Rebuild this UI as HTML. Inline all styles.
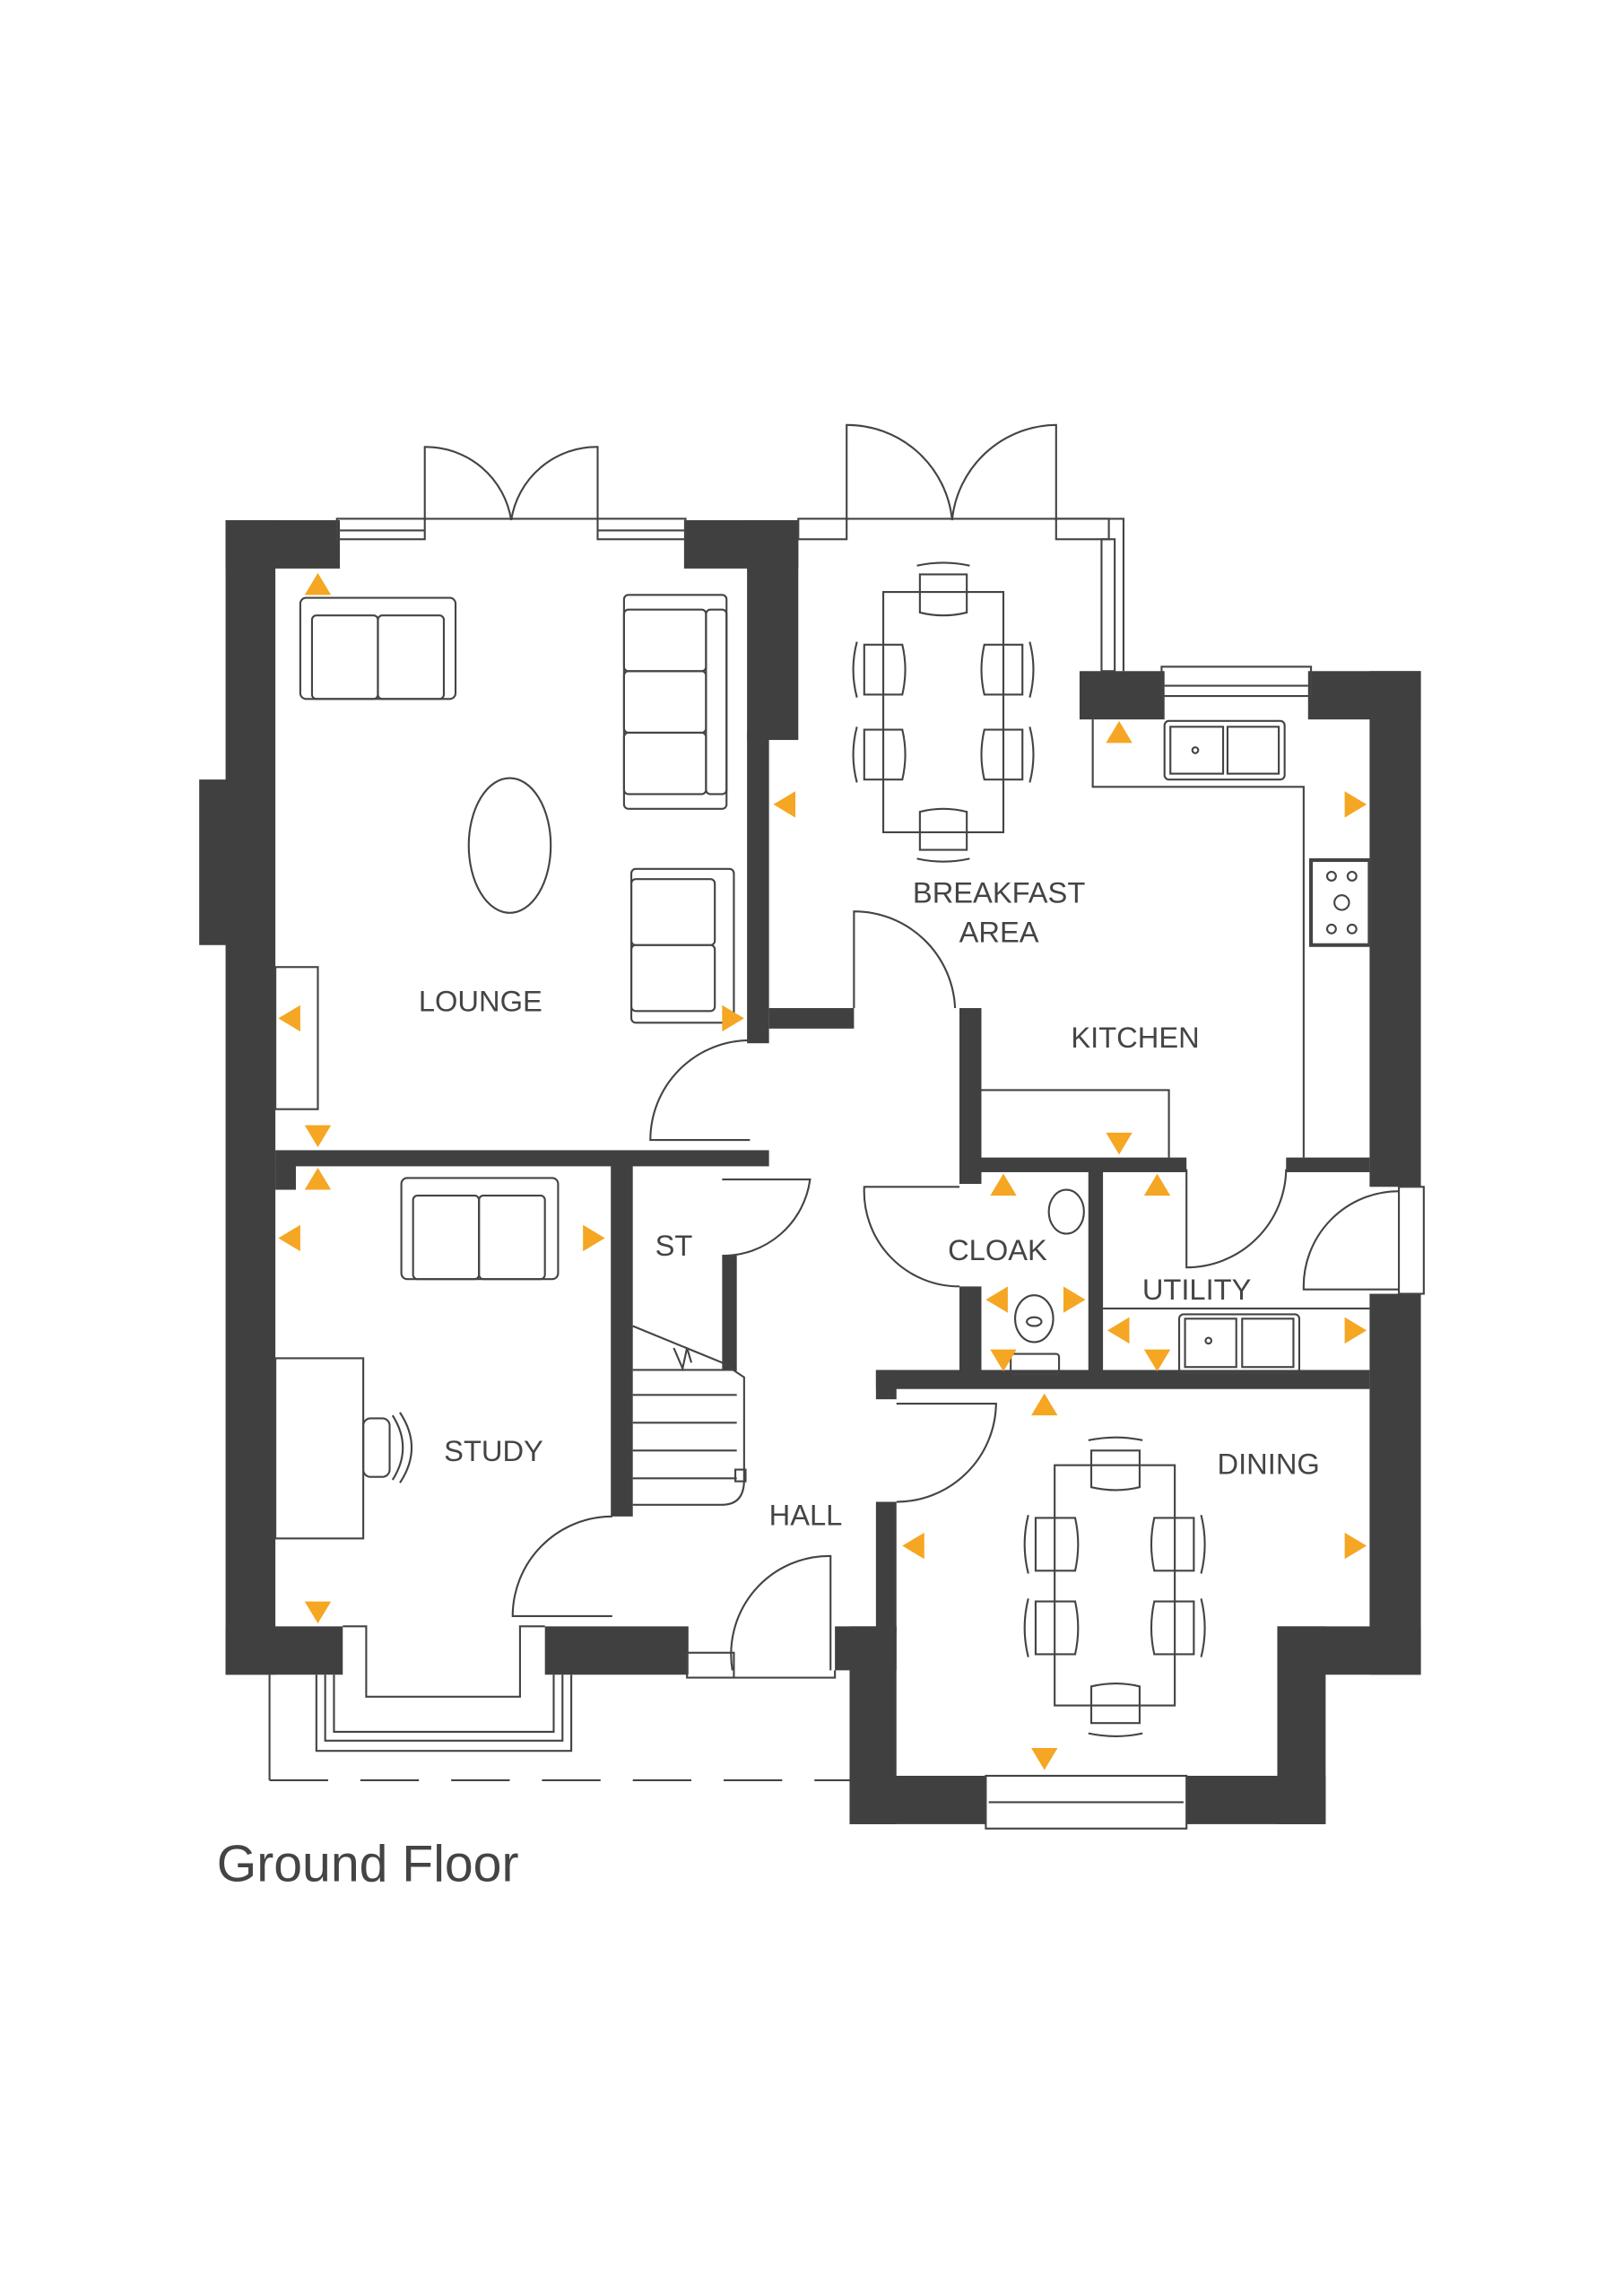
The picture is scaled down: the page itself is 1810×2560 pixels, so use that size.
<!DOCTYPE html>
<html><head><meta charset="utf-8"><style>
html,body{margin:0;padding:0;background:#fff;}
svg{display:block;}
text{font-family:"Liberation Sans",sans-serif;fill:#444;}
</style></head><body>
<svg width="1810" height="2560" viewBox="0 0 1108 1567" xmlns="http://www.w3.org/2000/svg">
<g fill="#404040">
<rect x="154" y="355" width="34" height="788"/>
<rect x="136" y="532" width="20" height="113"/>
<rect x="154" y="355" width="78" height="33"/>
<rect x="467" y="355" width="78" height="33"/>
<rect x="510" y="355" width="35" height="150"/>
<rect x="510" y="500" width="15" height="212"/>
<rect x="154" y="1110" width="80" height="33"/>
<rect x="372" y="1110" width="98" height="33"/>
<rect x="188" y="785" width="337" height="11"/>
<rect x="188" y="795" width="14" height="17"/>
<rect x="417" y="795" width="15" height="240"/>
<rect x="525" y="688" width="58" height="14"/>
<rect x="493" y="857" width="10" height="78"/>
<rect x="737" y="458" width="58" height="33"/>
<rect x="893" y="458" width="77" height="33"/>
<rect x="935" y="458" width="35" height="352"/>
<rect x="935" y="883" width="35" height="260"/>
<rect x="872" y="1110" width="98" height="33"/>
<rect x="872" y="1110" width="33" height="135"/>
<rect x="580" y="1212" width="93" height="33"/>
<rect x="810" y="1212" width="95" height="33"/>
<rect x="580" y="1110" width="32" height="135"/>
<rect x="570" y="1110" width="42" height="30"/>
<rect x="598" y="1025" width="14" height="90"/>
<rect x="598" y="935" width="337" height="13"/>
<rect x="598" y="935" width="14" height="20"/>
<rect x="655" y="688" width="15" height="120"/>
<rect x="655" y="878" width="15" height="62"/>
<rect x="743" y="795" width="10" height="145"/>
<rect x="655" y="790" width="155" height="10"/>
<rect x="878" y="790" width="57" height="10"/>
</g>
<g fill="none" stroke="#444" stroke-width="1.3">
<rect x="230" y="354" width="60" height="14"/><line x1="230" y1="362" x2="290" y2="362"/>
<rect x="408" y="354" width="60" height="14"/><line x1="408" y1="362" x2="468" y2="362"/>
<line x1="290" y1="354" x2="408" y2="354"/>
<rect x="545" y="354" width="33" height="14"/>
<rect x="721" y="354" width="36" height="14"/>
<line x1="578" y1="354" x2="721" y2="354"/>
<polyline points="721,354 767,354 767,458"/>
<rect x="752" y="368" width="9" height="90"/>
<rect x="793" y="455" width="102" height="20"/><line x1="795" y1="468" x2="893" y2="468"/>
<rect x="673" y="1212" width="137" height="36"/><line x1="675" y1="1230" x2="808" y2="1230"/>
<rect x="469" y="1128" width="32" height="17"/>
<polyline points="501,1145 570,1145 570,1140"/>
<polyline points="234,1110 250,1110 250,1158 355,1158 355,1110 372,1110"/>
<polyline points="216,1143 216,1195 390,1195 390,1143"/>
<polyline points="222,1143 222,1188 384,1188 384,1143"/>
<polyline points="228,1143 228,1182 378,1182 378,1143"/>
<polyline points="184,1143 184,1215"/>
<line x1="184" y1="1215" x2="580" y2="1215" stroke-dasharray="40,22"/>
<rect x="955" y="810" width="17" height="73"/>
<path d="M290,355 V305 A59,59 0 0 1 349,355"/>
<path d="M408,355 V305 A59,59 0 0 0 349,355"/>
<path d="M578,355 V290 A72,72 0 0 1 650,355"/>
<path d="M721,355 V290 A72,72 0 0 0 650,355"/>
<path d="M512,778 H444 A68,68 0 0 1 512,710"/>
<path d="M583,688 V622 A69,69 0 0 1 652,688"/>
<path d="M418,1103 H350 A68,68 0 0 1 418,1035"/>
<path d="M493,805 H553 A60,60 0 0 1 493,857"/>
<path d="M567,1140 V1062 A67,67 0 0 0 500,1140"/>
<path d="M655,810 H590 A65,65 0 0 0 655,878"/>
<path d="M810,798 V865 A68,68 0 0 0 878,798"/>
<path d="M955,880 H890 A65,65 0 0 1 955,813"/>
<path d="M612,958 H680 A68,68 0 0 1 612,1025"/>
<polyline points="746,491 746,537 890,537 890,790"/>
<polyline points="670,744 798,744 798,790"/>
<line x1="753" y1="893" x2="935" y2="893"/>
<rect x="795" y="492" width="82" height="40" rx="3"/>
<rect x="799" y="496" width="36" height="32"/>
<rect x="838" y="496" width="35" height="32"/>
<circle cx="816" cy="512" r="2"/>
<rect x="805" y="897" width="82" height="40" rx="3"/>
<rect x="809" y="900" width="35" height="33"/>
<rect x="848" y="900" width="35" height="33"/>
<circle cx="825" cy="915" r="2"/>
<rect x="895" y="587" width="40" height="58" stroke-width="2.5"/>
<circle cx="909" cy="598" r="3"/><circle cx="923" cy="598" r="3"/><circle cx="916" cy="616" r="5"/><circle cx="909" cy="634" r="3"/><circle cx="923" cy="634" r="3"/>
<ellipse cx="728" cy="827" rx="12" ry="15"/>
<ellipse cx="706" cy="900" rx="13" ry="16"/><ellipse cx="706" cy="902" rx="5" ry="3"/>
<rect x="690" y="924" width="33" height="14" rx="2"/>
<polyline points="432,905 493,930 508,940 508,1010"/>
<path d="M432,1027 H493 Q508,1027 508,1010"/>
<line x1="432" y1="935" x2="503" y2="935"/>
<line x1="432" y1="952" x2="503" y2="952"/>
<line x1="432" y1="971" x2="503" y2="971"/>
<line x1="432" y1="990" x2="503" y2="990"/>
<line x1="432" y1="1009" x2="503" y2="1009"/>
<polyline points="460,920 466,934 469,920 472,930"/>
<rect x="502" y="1003" width="7" height="8"/>
<rect x="205" y="408" width="106" height="69" rx="4"/>
<rect x="213" y="420" width="45" height="57" rx="3"/><rect x="258" y="420" width="45" height="57" rx="3"/>
<rect x="426" y="406" width="70" height="146" rx="3"/>
<rect x="426" y="416" width="56" height="42" rx="3"/><rect x="426" y="458" width="56" height="42" rx="3"/><rect x="426" y="500" width="56" height="42" rx="3"/>
<rect x="482" y="416" width="14" height="126" rx="3"/>
<rect x="431" y="593" width="70" height="105" rx="3"/>
<rect x="431" y="600" width="57" height="45" rx="3"/><rect x="431" y="645" width="57" height="45" rx="3"/>
<ellipse cx="348" cy="577" rx="28" ry="46"/>
<rect x="188" y="660" width="29" height="97"/>
<rect x="274" y="804" width="107" height="69" rx="4"/>
<rect x="282" y="816" width="45" height="57" rx="3"/><rect x="327" y="816" width="45" height="57" rx="3"/>
<rect x="188" y="927" width="60" height="123"/>
<rect x="248" y="968" width="18" height="40" rx="5"/>
<path d="M268,966 Q282,988 268,1010 M273,964 Q289,988 273,1012"/>
<rect x="603" y="404" width="82" height="164"/>
<path d="M628,392 H660 V418 Q644,422 628,418 Z"/><path d="M626,386 Q644,382 662,386"/>
<path d="M628,580 H660 V554 Q644,550 628,554 Z"/><path d="M626,586 Q644,590 662,586"/>
<path d="M590,440 V474 H616 Q620,457 616,440 Z"/><path d="M585,438 Q580,457 585,476"/>
<path d="M590,498 V532 H616 Q620,515 616,498 Z"/><path d="M585,496 Q580,515 585,534"/>
<path d="M698,440 V474 H672 Q668,457 672,440 Z"/><path d="M703,438 Q708,457 703,476"/>
<path d="M698,498 V532 H672 Q668,515 672,498 Z"/><path d="M703,496 Q708,515 703,534"/>
<rect x="720" y="1000" width="82" height="164"/>
<path d="M745,990 H778 V1015 Q762,1019 745,1015 Z"/><path d="M743,983 Q762,979 780,983"/>
<path d="M745,1176 H778 V1151 Q762,1147 745,1151 Z"/><path d="M743,1183 Q762,1187 780,1183"/>
<path d="M707,1036 V1072 H734 Q738,1054 734,1036 Z"/><path d="M702,1034 Q697,1054 702,1074"/>
<path d="M707,1093 V1129 H734 Q738,1111 734,1093 Z"/><path d="M702,1091 Q697,1111 702,1131"/>
<path d="M815,1036 V1072 H788 Q784,1054 788,1036 Z"/><path d="M820,1034 Q825,1054 820,1074"/>
<path d="M815,1093 V1129 H788 Q784,1111 788,1093 Z"/><path d="M820,1091 Q825,1111 820,1131"/>
</g>
<g fill="#f5a623">
<path d="M208,406 L217,391 L226,406Z"/>
<path d="M208,768 L226,768 L217,783Z"/>
<path d="M208,812 L217,797 L226,812Z"/>
<path d="M205,686 L205,704 L190,695Z"/>
<path d="M493,686 L493,704 L508,695Z"/>
<path d="M205,836 L205,854 L190,845Z"/>
<path d="M398,836 L398,854 L413,845Z"/>
<path d="M208,1093 L226,1093 L217,1108Z"/>
<path d="M543,540 L543,558 L528,549Z"/>
<path d="M755,507 L764,492 L773,507Z"/>
<path d="M918,540 L918,558 L933,549Z"/>
<path d="M755,773 L773,773 L764,788Z"/>
<path d="M676,816 L685,801 L694,816Z"/>
<path d="M781,816 L790,801 L799,816Z"/>
<path d="M688,878 L688,896 L673,887Z"/>
<path d="M726,878 L726,896 L741,887Z"/>
<path d="M676,921 L694,921 L685,936Z"/>
<path d="M771,899 L771,917 L756,908Z"/>
<path d="M781,921 L799,921 L790,936Z"/>
<path d="M918,899 L918,917 L933,908Z"/>
<path d="M704,966 L713,951 L722,966Z"/>
<path d="M631,1046 L631,1064 L616,1055Z"/>
<path d="M918,1046 L918,1064 L933,1055Z"/>
<path d="M704,1193 L722,1193 L713,1208Z"/>
</g>
<g font-size="20">
<text x="682" y="616" text-anchor="middle">BREAKFAST</text>
<text x="682" y="643" text-anchor="middle">AREA</text>
<text x="775" y="715" text-anchor="middle">KITCHEN</text>
<text x="328" y="690" text-anchor="middle">LOUNGE</text>
<text x="460" y="857" text-anchor="middle">ST</text>
<text x="681" y="860" text-anchor="middle">CLOAK</text>
<text x="817" y="887" text-anchor="middle">UTILITY</text>
<text x="337" y="997" text-anchor="middle">STUDY</text>
<text x="866" y="1006" text-anchor="middle">DINING</text>
<text x="550" y="1041" text-anchor="middle">HALL</text>
</g>
<text x="148" y="1284" font-size="35">Ground Floor</text>
</svg>
</body></html>
